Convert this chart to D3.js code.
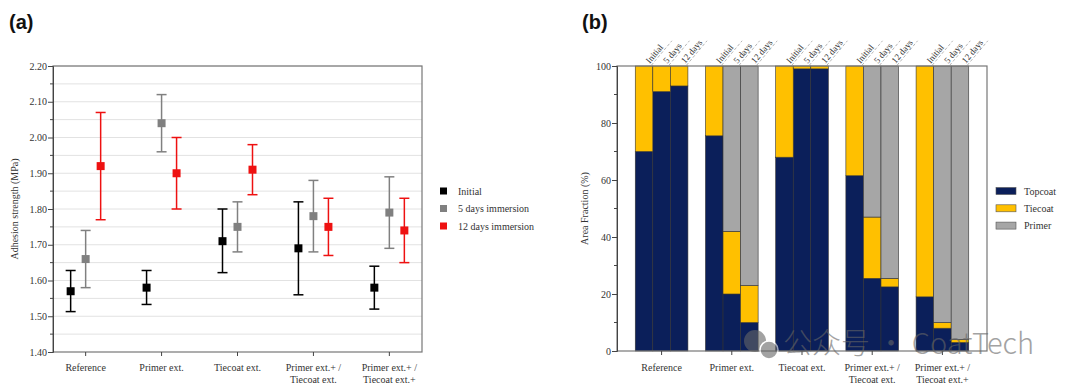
<!DOCTYPE html>
<html>
<head>
<meta charset="utf-8">
<script src="https://cdn.jsdelivr.net/npm/d3@7"></script>
<style>
  body { margin: 0; background: #fff; }
  svg { display: block; }
</style>
</head>
<body>
<div id="chart"></div>
<script>
// overall size
var width = 1080;
var height = 391;
var serif = "'Liberation Serif', 'Times New Roman', Times, serif";

// ---- data, panel (a) ----
var coatings = ["Reference", "Primer ext.", "Tiecoat ext.", "Primer ext.+ / Tiecoat ext.", "Primer ext.+ / Tiecoat ext.+"];
var coatingLines = [["Reference"], ["Primer ext."], ["Tiecoat ext."], ["Primer ext.+ /", "Tiecoat ext."], ["Primer ext.+ /", "Tiecoat ext.+"]];
var seriesA = ["Initial", "5 days immersion", "12 days immersion"];
var meanInitial = [1.57, 1.58, 1.71, 1.69, 1.58];
var lowInitial  = [1.513, 1.533, 1.622, 1.56, 1.52];
var highInitial = [1.628, 1.628, 1.80, 1.82, 1.64];
var mean5d = [1.66, 2.04, 1.75, 1.78, 1.79];
var low5d  = [1.58, 1.96, 1.68, 1.68, 1.69];
var high5d = [1.74, 2.12, 1.82, 1.88, 1.89];
var mean12d = [1.92, 1.90, 1.91, 1.75, 1.74];
var low12d  = [1.77, 1.80, 1.84, 1.67, 1.65];
var high12d = [2.07, 2.00, 1.98, 1.83, 1.83];
var yTicksA = [1.40, 1.50, 1.60, 1.70, 1.80, 1.90, 2.00, 2.10, 2.20];

// ---- data, panel (b) ----
var states = ["Initial", "5 days", "12 days"];
var layers = ["Topcoat", "Tiecoat", "Primer"];
// one array per layer, 15 values: coating x state (Initial, 5 days, 12 days)
var topcoat = [70, 91, 93,  75.5, 20, 10,  68, 99, 99,  61.5, 25.5, 22.5,  19, 8, 3];
var tiecoat = [30, 9, 7,    24.5, 22, 13,  32, 1, 1,    38.5, 21.5, 3,     81, 2, 1];
var primer  = [0, 0, 0,     0, 58, 77,     0, 0, 0,     0, 53, 74.5,       0, 90, 96];
var yTicksB = [0, 20, 40, 60, 80, 100];

var colA = { "Initial": "#000000", "5 days immersion": "#808080", "12 days immersion": "#ee1111" };
var colB = { "Topcoat": "#0b1f5a", "Tiecoat": "#ffc000", "Primer": "#a6a6a6" };

const svg = d3.select("#chart").append("svg")
  .attr("width", width)
  .attr("height", height)
  .attr("font-family", serif);

// =========================== panel (a) ===========================
var a = { left: 53, right: 422, top: 66, bottom: 352 };

var xA = d3.scalePoint().domain(coatings).range([a.left, a.right]).padding(0.43);
var xOff = d3.scalePoint().domain(seriesA).range([-15, 15]);
var yA = d3.scaleLinear().domain([1.4, 2.2]).range([a.bottom, a.top]);

svg.append("text")
  .attr("x", 9).attr("y", 29)
  .attr("font-family", "'Liberation Sans', Arial, sans-serif")
  .attr("font-weight", "bold").attr("font-size", 20).attr("fill", "#111")
  .text("(a)");

// grid every 0.05
svg.append("g").selectAll("line")
  .data(d3.range(1.45, 2.2, 0.05))
  .enter().append("line")
  .attr("x1", a.left).attr("x2", a.right)
  .attr("y1", d => yA(d)).attr("y2", d => yA(d))
  .style("stroke", "#e2e2e2").style("stroke-width", 1);

svg.append("rect")
  .attr("x", a.left).attr("y", a.top)
  .attr("width", a.right - a.left).attr("height", a.bottom - a.top)
  .style("fill", "none").style("stroke", "#777").style("stroke-width", 1.2);

// y axis
const yAxisA = d3.axisLeft(yA).tickValues(yTicksA).tickFormat(d3.format(".2f")).tickSize(5);
const gyA = svg.append("g").attr("transform", "translate(" + a.left + ",0)").call(yAxisA)
  .attr("font-family", serif).attr("font-size", 10);
gyA.select(".domain").style("stroke", "#444");
gyA.selectAll(".tick line").style("stroke", "#444");
gyA.selectAll("text").attr("fill", "#333").attr("x", -6);
svg.append("g").selectAll("line")
  .data(d3.range(1.45, 2.2, 0.1))
  .enter().append("line")
  .attr("x1", a.left - 3).attr("x2", a.left)
  .attr("y1", d => yA(d)).attr("y2", d => yA(d))
  .style("stroke", "#444");

// x ticks
svg.append("g").selectAll("line")
  .data(coatings).enter().append("line")
  .attr("x1", d => xA(d)).attr("x2", d => xA(d))
  .attr("y1", a.bottom).attr("y2", a.bottom + 4)
  .style("stroke", "#444");

// category labels
coatings.forEach(function(c, i) {
  var t = svg.append("text")
    .attr("x", xA(c)).attr("y", 371)
    .attr("text-anchor", "middle")
    .attr("font-size", 10).attr("fill", "#333");
  coatingLines[i].forEach(function(line, k) {
    t.append("tspan").attr("x", xA(c)).attr("dy", k == 0 ? 0 : 11.5).text(line);
  });
});

svg.append("text")
  .attr("transform", "translate(18," + (a.top + a.bottom) / 2 + ") rotate(-90)")
  .attr("text-anchor", "middle")
  .attr("font-size", 10).attr("fill", "#333")
  .text("Adhesion strength (MPa)");

// error bars + markers
var pointsA = [];
coatings.forEach(function(c, i) {
  pointsA.push({ c: c, s: seriesA[0], m: meanInitial[i], lo: lowInitial[i], hi: highInitial[i] });
  pointsA.push({ c: c, s: seriesA[1], m: mean5d[i], lo: low5d[i], hi: high5d[i] });
  pointsA.push({ c: c, s: seriesA[2], m: mean12d[i], lo: low12d[i], hi: high12d[i] });
});

const err = svg.append("g").selectAll("g")
  .data(pointsA).enter().append("g")
  .attr("transform", d => "translate(" + (xA(d.c) + xOff(d.s)) + ",0)")
  .style("stroke", d => colA[d.s]).style("stroke-width", 1.5);
err.append("line").attr("y1", d => yA(d.lo)).attr("y2", d => yA(d.hi));
err.append("line").attr("x1", -5).attr("x2", 5).attr("y1", d => yA(d.lo)).attr("y2", d => yA(d.lo));
err.append("line").attr("x1", -5).attr("x2", 5).attr("y1", d => yA(d.hi)).attr("y2", d => yA(d.hi));
err.append("rect")
  .attr("x", -4).attr("y", d => yA(d.m) - 4)
  .attr("width", 8).attr("height", 8)
  .style("fill", d => colA[d.s]).style("stroke", "none");

// legend (a)
const legA = svg.append("g").selectAll("g")
  .data(seriesA).enter().append("g")
  .attr("transform", (d, i) => "translate(440," + (191 + i * 17.5) + ")");
legA.append("rect").attr("x", 0).attr("y", -3.5).attr("width", 7).attr("height", 7)
  .style("fill", d => colA[d]);
legA.append("text").attr("x", 18).attr("y", 3.5)
  .attr("font-size", 10).attr("fill", "#333").text(d => d);

// =========================== panel (b) ===========================
var b = { left: 617, right: 987, top: 66, bottom: 351 };

var xB = d3.scaleBand().domain(coatings).range([b.left, b.right]).paddingInner(0.25).paddingOuter(0.26);
var xSub = d3.scaleBand().domain(states).range([0, xB.bandwidth()]);
var yB = d3.scaleLinear().domain([0, 100]).range([b.bottom, b.top]);

svg.append("text")
  .attr("x", 582).attr("y", 29)
  .attr("font-family", "'Liberation Sans', Arial, sans-serif")
  .attr("font-weight", "bold").attr("font-size", 20).attr("fill", "#111")
  .text("(b)");

// build rows for stacking
var rowsB = [];
coatings.forEach(function(c, i) {
  states.forEach(function(s, j) {
    var k = i * 3 + j;
    rowsB.push({ coating: c, state: s, Topcoat: topcoat[k], Tiecoat: tiecoat[k], Primer: primer[k] });
  });
});
var stacked = d3.stack().keys(layers)(rowsB);

svg.append("g").selectAll("g")
  .data(stacked).enter().append("g")
  .style("fill", d => colB[d.key])
  .selectAll("rect")
  .data(d => d.filter(p => p[1] - p[0] > 0)).enter().append("rect")
  .attr("x", d => xB(d.data.coating) + xSub(d.data.state))
  .attr("width", xSub.bandwidth())
  .attr("y", d => yB(d[1]))
  .attr("height", d => yB(d[0]) - yB(d[1]))
  .style("stroke", "#333").style("stroke-width", 0.6);

svg.append("rect")
  .attr("x", b.left).attr("y", b.top)
  .attr("width", b.right - b.left).attr("height", b.bottom - b.top)
  .style("fill", "none").style("stroke", "#777").style("stroke-width", 1.2);

const yAxisB = d3.axisLeft(yB).tickValues(yTicksB).tickSize(5);
const gyB = svg.append("g").attr("transform", "translate(" + b.left + ",0)").call(yAxisB)
  .attr("font-family", serif).attr("font-size", 10);
gyB.select(".domain").style("stroke", "#444");
gyB.selectAll(".tick line").style("stroke", "#444");
gyB.selectAll("text").attr("fill", "#333").attr("x", -6);
svg.append("g").selectAll("line")
  .data(d3.range(10, 100, 20))
  .enter().append("line")
  .attr("x1", b.left - 3).attr("x2", b.left)
  .attr("y1", d => yB(d)).attr("y2", d => yB(d))
  .style("stroke", "#444");

svg.append("g").selectAll("line")
  .data(coatings).enter().append("line")
  .attr("x1", d => xB(d) + xB.bandwidth() / 2).attr("x2", d => xB(d) + xB.bandwidth() / 2)
  .attr("y1", b.bottom).attr("y2", b.bottom + 4)
  .style("stroke", "#444");

coatings.forEach(function(c, i) {
  var cx = xB(c) + xB.bandwidth() / 2;
  var t = svg.append("text")
    .attr("x", cx).attr("y", 371)
    .attr("text-anchor", "middle")
    .attr("font-size", 10).attr("fill", "#333");
  coatingLines[i].forEach(function(line, k) {
    t.append("tspan").attr("x", cx).attr("dy", k == 0 ? 0 : 11.5).text(line);
  });
});

// rotated state labels above every bar
const topLab = svg.append("g").selectAll("g")
  .data(rowsB).enter().append("g")
  .attr("transform", d => "translate(" + (xB(d.coating) + xSub(d.state) + xSub.bandwidth() - 3) + "," + (b.top - 2) + ") rotate(-50)");
topLab.append("text")
  .attr("x", 0).attr("y", 0)
  .attr("font-size", 9).attr("fill", "#333")
  .text(d => d.state);
topLab.append("line")
  .attr("x1", 0).attr("x2", 32).attr("y1", 2).attr("y2", 2)
  .style("stroke", "#777").style("stroke-width", 0.5).style("stroke-dasharray", "3,2");

svg.append("text")
  .attr("transform", "translate(588," + (b.top + b.bottom) / 2 + ") rotate(-90)")
  .attr("text-anchor", "middle")
  .attr("font-size", 10).attr("fill", "#333")
  .text("Area Fraction (%)");

// legend (b)
const legB = svg.append("g").selectAll("g")
  .data(layers).enter().append("g")
  .attr("transform", (d, i) => "translate(996," + (191 + i * 17.3) + ")");
legB.append("rect").attr("x", 0).attr("y", -3.5).attr("width", 20).attr("height", 7)
  .style("fill", d => colB[d]).style("stroke", "#555").style("stroke-width", 0.6);
legB.append("text").attr("x", 28).attr("y", 3.5)
  .attr("font-size", 10).attr("fill", "#333").text(d => d);

// watermark
const wm = svg.append("g").style("opacity", 0.6);
wm.append("circle").attr("cx", 755).attr("cy", 341).attr("r", 11).style("fill", "#666");
wm.append("circle").attr("cx", 769).attr("cy", 350).attr("r", 9).style("fill", "#666").style("stroke", "#fff").style("stroke-width", 1.5);
wm.append("text")
  .attr("x", 783).attr("y", 354)
  .attr("font-family", "'Noto Sans CJK SC', 'Noto Sans', sans-serif")
  .attr("font-size", 29).attr("font-weight", 300).attr("fill", "#666")
  .text("公众号 · CoatTech");
</script>
</body>
</html>
